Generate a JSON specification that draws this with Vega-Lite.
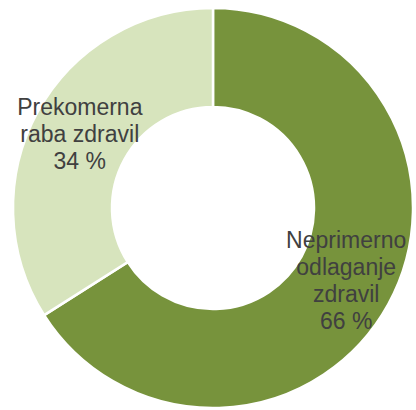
{
  "$schema": "https://vega.github.io/schema/vega-lite/v6.json",
  "autosize": {"type": "fit", "contains": "padding"},
  "width": 416,
  "height": 410,
  "padding": {"left": 10, "right": 0, "top": 6, "bottom": 0},
  "background": "white",
  "config": {"view": {"stroke": null}},
  "data": {
    "values": [
      {"idx": 1, "kategorija": "Neprimerno odlaganje zdravil", "label": "Neprimerno\nodlaganje\nzdravil\n66 %", "delez": 66},
      {"idx": 2, "kategorija": "Prekomerna raba zdravil", "label": "Prekomerna\nraba zdravil\n34 %", "delez": 34}
    ]
  },
  "encoding": {
    "theta": {"field": "delez", "type": "quantitative", "stack": true},
    "order": {"field": "idx", "type": "quantitative"}
  },
  "layer": [
    {
      "mark": {"type": "arc", "outerRadius": 200, "innerRadius": 101, "stroke": "white", "strokeWidth": 2.5},
      "encoding": {
        "color": {
          "field": "kategorija",
          "type": "nominal",
          "scale": {"domain": ["Neprimerno odlaganje zdravil", "Prekomerna raba zdravil"], "range": ["#77933C", "#D7E4BD"]},
          "legend": null
        }
      }
    },
    {
      "mark": {"type": "text", "radius": 152, "dy": -40, "font": "Liberation Sans", "fontSize": 23, "lineHeight": 27, "color": "#404040", "align": "center", "baseline": "middle", "lineBreak": "\n"},
      "encoding": {
        "text": {"condition": {"test": "datum.idx == 1", "field": "label"}, "value": ""}
      }
    },
    {
      "mark": {"type": "text", "radius": 152, "dy": -27, "font": "Liberation Sans", "fontSize": 23, "lineHeight": 27, "color": "#404040", "align": "center", "baseline": "middle", "lineBreak": "\n"},
      "encoding": {
        "text": {"condition": {"test": "datum.idx == 2", "field": "label"}, "value": ""}
      }
    }
  ]
}
